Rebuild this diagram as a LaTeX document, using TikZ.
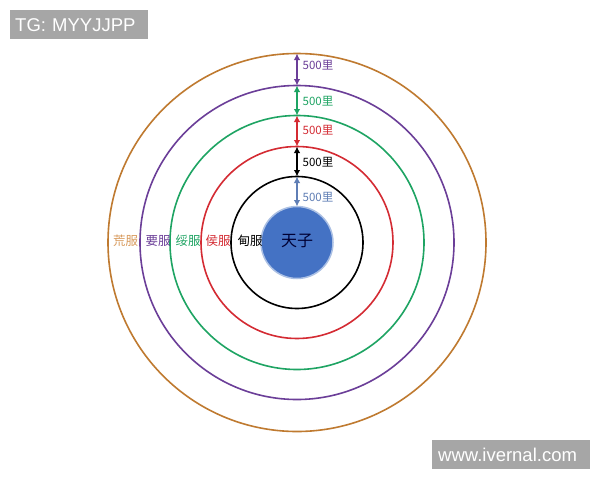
\documentclass[tikz,border=0pt]{standalone}
\usepackage{fontspec}
\setmainfont{Liberation Sans}
\newfontfamily\cjk{Noto Sans CJK SC}
\usetikzlibrary{arrows.meta}
\definecolor{corange}{HTML}{BF7A30}
\definecolor{lorange}{HTML}{D89A5C}
\definecolor{cpurple}{HTML}{6B3E98}
\definecolor{cgreen}{HTML}{1EA463}
\definecolor{cred}{HTML}{D42B33}
\definecolor{cblue}{HTML}{4472C4}
\definecolor{carrowblue}{HTML}{5F7EB5}
\definecolor{wmgray}{HTML}{A6A6A6}
\tikzset{
  ring/.style={draw=#1, line width=1.6pt, fill=none},
  gap/.style={{Latex[length=6.5pt,width=6.5pt]}-{Latex[length=6.5pt,width=6.5pt]}, line width=1.5pt, draw=#1},
  dist/.style={font=\cjk\fontsize{11.5}{13}\selectfont, text=#1, anchor=west, inner sep=0pt},
  zone/.style={font=\cjk\fontsize{12.5}{14}\selectfont, text=#1, inner sep=0pt},
  wm/.style={fill=wmgray, text=white, font=\fontsize{18.5}{20}\selectfont, inner sep=0pt, anchor=north west}
}
\begin{document}
\begin{tikzpicture}[x=1pt,y=-1pt]
\useasboundingbox (0,0) rectangle (600,480);
\fill[white] (0,0) rectangle (600,480);
\coordinate (c) at (297,242.5);
% rings
\draw[ring=corange] (c) circle[radius=189];
\draw[ring=cpurple] (c) circle[radius=157];
\draw[ring=cgreen] (c) circle[radius=127];
\draw[ring=cred] (c) circle[radius=96];
\draw[ring=black] (c) circle[radius=66];
\node[circle, minimum size=72pt, inner sep=0pt, fill=cblue, draw=cblue!45, line width=1.5pt] (tz) at (c) {};
\node[font=\cjk\fontsize{16}{18}\selectfont, text=black!80!blue] (tzl) at (297,240.5) {天子};
% ring tops
\coordinate (t1) at (297,53.5);
\coordinate (t2) at (297,85.5);
\coordinate (t3) at (297,115.5);
\coordinate (t4) at (297,146.5);
\coordinate (t5) at (297,176.5);
\coordinate (t6) at (297,206.5);
\draw[gap=cpurple] (t1) -- (t2);
\draw[gap=cgreen] (t2) -- (t3);
\draw[gap=cred] (t3) -- (t4);
\draw[gap=black] (t4) -- (t5);
\draw[gap=carrowblue] (t5) -- (t6);
\node[dist=cpurple] (d1) at (302.5,65) {500里};
\node[dist=cgreen] (d2) at (302.5,101.5) {500里};
\node[dist=cred] (d3) at (302.5,130.5) {500里};
\node[dist=black] (d4) at (302.5,162) {500里};
\node[dist=carrowblue] (d5) at (302.5,197) {500里};
% zone labels
\node[zone=lorange] (z1) at (125.5,241) {荒服};
\node[zone=cpurple] (z2) at (158,241) {要服};
\node[zone=cgreen] (z3) at (188,241) {绥服};
\node[zone=cred] (z4) at (218,241) {侯服};
\node[zone=black] (z5) at (250,241) {甸服};
% watermarks
\node[wm, minimum width=138pt, minimum height=29pt, text width=134pt, align=left] (w1) at (10,10) {\hspace*{3pt}TG: MYYJJPP};
\node[wm, minimum width=158pt, minimum height=29pt, text width=154pt, align=left] (w2) at (432,440) {\hspace*{4pt}www.ivernal.com};
\end{tikzpicture}
\end{document}
